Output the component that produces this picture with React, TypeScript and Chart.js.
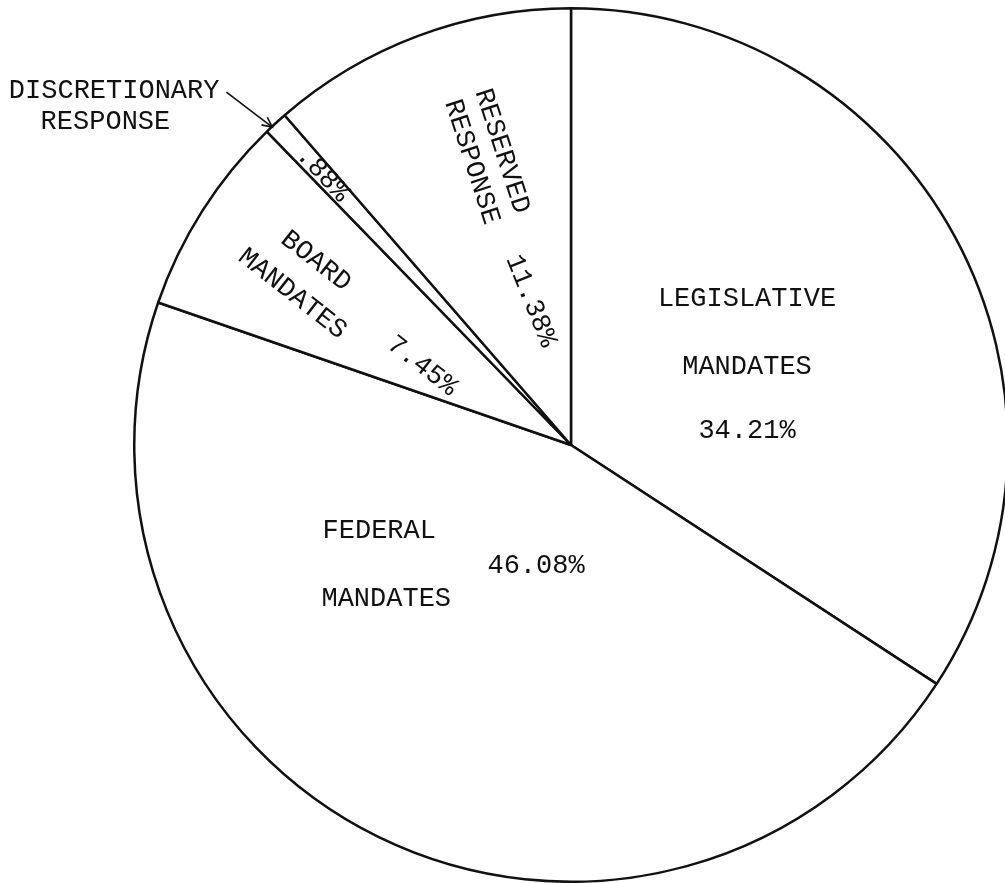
import React, { useEffect, useRef } from "react";
import { Chart, registerables } from "chart.js";

Chart.register(...registerables);

// ---- data ----
const categories = [
  "Legislative Mandates",
  "Federal Mandates",
  "Board Mandates",
  "Discretionary Response",
  "Reserved Response",
];
const shares = [34.21, 46.08, 7.45, 0.88, 11.38];
const valueLabels = ["34.21%", "46.08%", "7.45%", ".88%", "11.38%"];
const nameLines = [
  ["LEGISLATIVE", "MANDATES"],
  ["FEDERAL", "MANDATES"],
  ["BOARD", "MANDATES"],
  ["DISCRETIONARY", "RESPONSE"],
  ["RESERVED", "RESPONSE"],
];

// ---- label layout (offsets in units of pie radius from pie centre, rotation deg) ----
type Item = { text: string; fx: number; fy: number; rot: number };
const layout: Item[][] = [
  [
    { text: nameLines[0][0], fx: 0.403, fy: -0.334, rot: 0 },
    { text: nameLines[0][1], fx: 0.403, fy: -0.178, rot: 0 },
    { text: valueLabels[0], fx: 0.403, fy: -0.032, rot: 0 },
  ],
  [
    { text: nameLines[1][0], fx: -0.439, fy: 0.197, rot: 0 },
    { text: valueLabels[1], fx: -0.08, fy: 0.277, rot: 0 },
    { text: nameLines[1][1], fx: -0.423, fy: 0.352, rot: 0 },
  ],
  [
    { text: nameLines[2][0], fx: -0.584, fy: -0.421, rot: 38 },
    { text: nameLines[2][1], fx: -0.638, fy: -0.346, rot: 38 },
    { text: valueLabels[2], fx: -0.341, fy: -0.181, rot: 38 },
  ],
  [
    { text: nameLines[3][0], fx: -1.046, fy: -0.81, rot: 0 },
    { text: nameLines[3][1], fx: -1.066, fy: -0.739, rot: 0 },
    { text: valueLabels[3], fx: -0.569, fy: -0.62, rot: 47 },
  ],
  [
    { text: nameLines[4][0], fx: -0.158, fy: -0.673, rot: 72 },
    { text: nameLines[4][1], fx: -0.227, fy: -0.648, rot: 72 },
    { text: valueLabels[4], fx: -0.092, fy: -0.33, rot: 68 },
  ],
];
const arrowFrom = { fx: -0.789, fy: -0.808 };
const arrowTo = { fx: -0.684, fy: -0.728 };

const FONT = '27px "Liberation Mono", "DejaVu Sans Mono", monospace';
const INK = "#111111";

const labelPlugin = {
  id: "sliceLabels",
  afterDraw(chart: any) {
    const meta = chart.getDatasetMeta(0);
    const arc = meta.data[0];
    if (!arc) return;
    const cx = arc.x;
    const cy = arc.y;
    const R = arc.outerRadius;
    const ctx = chart.ctx as CanvasRenderingContext2D;
    ctx.save();
    ctx.fillStyle = INK;
    ctx.font = FONT;
    ctx.textAlign = "center";
    ctx.textBaseline = "middle";
    layout.forEach((items) => {
      items.forEach((it) => {
        ctx.save();
        ctx.translate(cx + it.fx * R, cy + it.fy * R);
        ctx.rotate((it.rot * Math.PI) / 180);
        ctx.fillText(it.text, 0, 0);
        ctx.restore();
      });
    });
    // leader arrow for discretionary response
    const x1 = cx + arrowFrom.fx * R;
    const y1 = cy + arrowFrom.fy * R;
    const x2 = cx + arrowTo.fx * R;
    const y2 = cy + arrowTo.fy * R;
    ctx.strokeStyle = INK;
    ctx.lineWidth = 1.6;
    ctx.beginPath();
    ctx.moveTo(x1, y1);
    ctx.lineTo(x2, y2);
    ctx.stroke();
    const ang = Math.atan2(y2 - y1, x2 - x1);
    const hl = 11;
    ctx.beginPath();
    ctx.moveTo(x2 - hl * Math.cos(ang - 0.45), y2 - hl * Math.sin(ang - 0.45));
    ctx.lineTo(x2, y2);
    ctx.lineTo(x2 - hl * Math.cos(ang + 0.45), y2 - hl * Math.sin(ang + 0.45));
    ctx.stroke();
    ctx.restore();
  },
};

export default function App() {
  const ref = useRef<HTMLCanvasElement | null>(null);
  useEffect(() => {
    if (!ref.current) return;
    const chart = new Chart(ref.current, {
      type: "pie",
      data: {
        labels: categories,
        datasets: [
          {
            data: shares,
            backgroundColor: "#ffffff",
            borderColor: INK,
            borderWidth: 2.5,
          },
        ],
      },
      options: {
        responsive: false,
        animation: false,
        rotation: 0,
        layout: { padding: { left: 132, top: 7, right: 0, bottom: 0 } },
        plugins: {
          legend: { display: false },
          tooltip: { enabled: false },
        },
      },
      plugins: [labelPlugin],
    });
    return () => chart.destroy();
  }, []);
  return (
    <div
      style={{
        position: "fixed",
        left: 0,
        top: 0,
        width: 1005,
        height: 883,
        overflow: "hidden",
        background: "#ffffff",
      }}
    >
      <canvas ref={ref} width={1010} height={883} style={{ display: "block" }} />
    </div>
  );
}
